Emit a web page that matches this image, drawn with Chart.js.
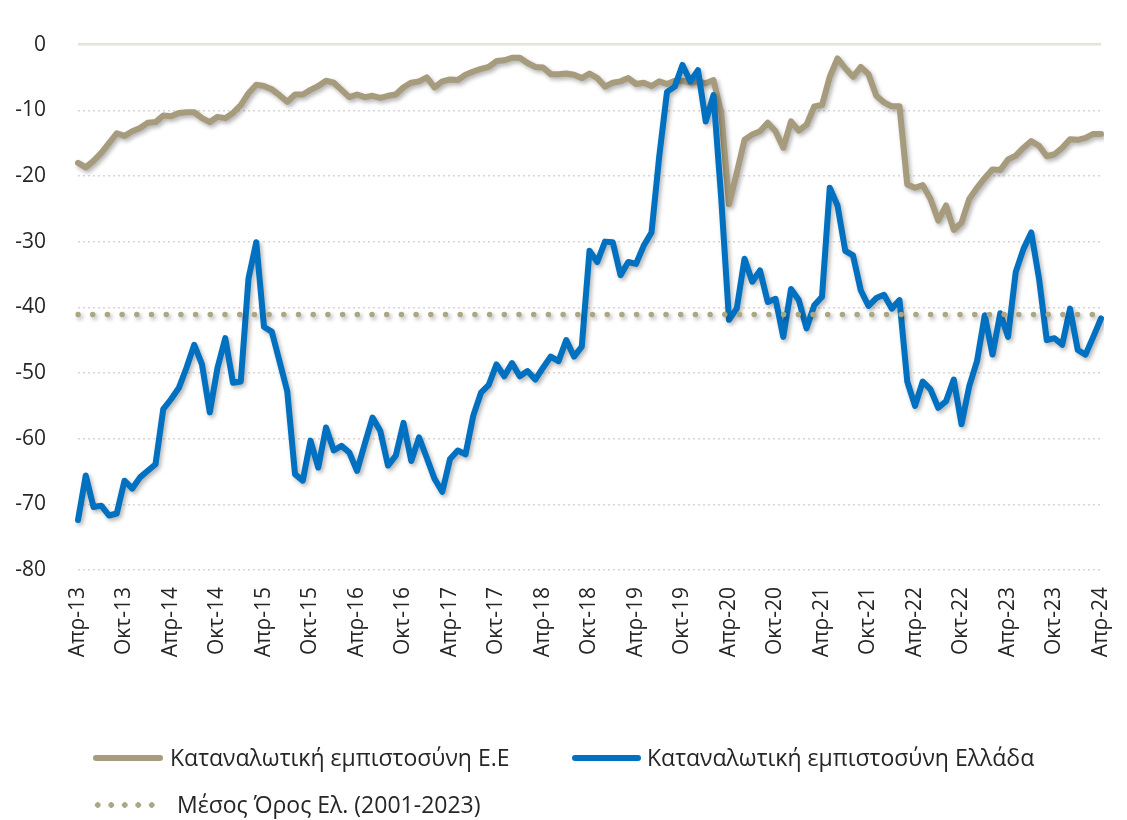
<!DOCTYPE html>
<html>
<head>
<meta charset="utf-8">
<script src="https://cdn.jsdelivr.net/npm/chart.js@4"></script>
<style>
  html, body { margin: 0; padding: 0; background: #fff; }
  #wrap { position: relative; width: 1127px; height: 820px; font-family: "Open Sans", "Liberation Sans", sans-serif; color: #262626; }
  #wrap canvas { position: absolute; left: 0; top: 0; }
  .lg { position: absolute; font-size: 23px; line-height: 28px; white-space: nowrap; }
  .sw { position: absolute; height: 6px; border-radius: 3px; }
  .dots { position: absolute; height: 6px;
    background-image: radial-gradient(circle, #ABA683 2.6px, transparent 3px);
    background-size: 13.5px 6px; }
</style>
</head>
<body>
<div id="wrap">
  <canvas id="chart" width="1127" height="820"></canvas>
  <div class="sw" style="left:93px; top:755px; width:70px; background:#A69B7D;"></div>
  <div class="lg" style="left:170px; top:743px;">Καταναλωτική εμπιστοσύνη Ε.Ε</div>
  <div class="sw" style="left:572px; top:755px; width:69px; background:#0070C0;"></div>
  <div class="lg" style="left:647px; top:743px;">Καταναλωτική εμπιστοσύνη Ελλάδα</div>
  <div class="dots" style="left:91px; top:802px; width:67.5px;"></div>
  <div class="lg" style="left:177px; top:790px;">Μέσος Όρος Ελ. (2001-2023)</div>
</div>
<script>
// Monthly series, Apr-2013 .. Apr-2024
const monthNames = ['Ιαν', 'Φεβ', 'Μαρ', 'Απρ', 'Μαϊ', 'Ιουν', 'Ιουλ', 'Αυγ', 'Σεπ', 'Οκτ', 'Νοε', 'Δεκ'];
const startYear = 13;
const startMonth = 3; // April

const euConfidence = [
  -18.0, -18.7, -17.7, -16.5, -15.0, -13.5, -13.9, -13.2, -12.7, -11.9, -11.8, -10.8,
  -10.9, -10.4, -10.3, -10.3, -11.2, -11.8, -11.0, -11.2, -10.4, -9.2, -7.4, -6.1,
  -6.3, -6.8, -7.7, -8.7, -7.6, -7.6, -6.9, -6.3, -5.5, -5.8, -6.9, -8.0,
  -7.6, -8.0, -7.8, -8.1, -7.8, -7.6, -6.5, -5.8, -5.6, -5.0, -6.5, -5.6,
  -5.3, -5.4, -4.6, -4.1, -3.7, -3.4, -2.5, -2.4, -2.0, -2.0, -2.8, -3.4,
  -3.5, -4.5, -4.5, -4.4, -4.6, -5.1, -4.4, -5.1, -6.4, -5.8, -5.6, -5.1,
  -6.0, -5.8, -6.3, -5.6, -6.0, -5.5, -5.5, -5.8, -5.6, -5.9, -5.4, -10.4,
  -24.3, -19.5, -14.5, -13.7, -13.2, -11.9, -13.2, -15.7, -11.7, -13.1, -12.2, -9.4,
  -9.2, -4.9, -2.1, -3.6, -4.9, -3.4, -4.5, -7.8, -8.8, -9.4, -9.4, -21.3,
  -21.8, -21.4, -23.5, -26.8, -24.5, -28.2, -27.1, -23.5, -21.8, -20.3, -19.0, -19.1,
  -17.5, -16.9, -15.7, -14.7, -15.4, -17.0, -16.7, -15.7, -14.4, -14.5, -14.2, -13.6,
  -13.6
];

const grConfidence = [
  -72.4, -65.6, -70.4, -70.2, -71.7, -71.4, -66.4, -67.6, -65.9, -64.9, -63.9, -55.5,
  -54.0, -52.3, -49.2, -45.7, -48.7, -56.0, -49.2, -44.7, -51.5, -51.3, -35.6, -30.1,
  -43.0, -43.7, -48.2, -52.8, -65.4, -66.4, -60.3, -64.4, -58.3, -61.8, -61.1, -62.1,
  -64.9, -60.8, -56.8, -58.8, -64.1, -62.6, -57.6, -63.4, -59.8, -62.9, -66.1, -68.1,
  -63.1, -61.8, -62.4, -56.5, -53.0, -51.8, -48.7, -50.5, -48.5, -50.5, -49.7, -51.0,
  -49.2, -47.5, -48.2, -45.0, -47.5, -46.0, -31.4, -33.1, -30.0, -30.1, -35.1, -33.1,
  -33.4, -30.6, -28.6, -17.0, -7.2, -6.4, -3.1, -5.6, -3.9, -11.7, -7.7, -23.5,
  -41.9, -40.2, -32.6, -36.1, -34.4, -39.2, -38.7, -44.5, -37.2, -38.9, -43.2, -39.7,
  -38.4, -21.8, -24.5, -31.4, -32.1, -37.4, -39.8, -38.6, -38.1, -40.2, -38.9, -51.3,
  -55.0, -51.3, -52.5, -55.3, -54.3, -51.0, -57.8, -52.0, -48.2, -41.2, -47.2, -40.9,
  -44.5, -34.6, -31.1, -28.6, -35.6, -45.0, -44.7, -45.7, -40.2, -46.5, -47.2, -44.5,
  -41.7
];

// long-run average for Greece (2001-2023)
const grAverage = -41.1;

const yTicks = { min: -80, max: 0, step: 10 };

const labels = euConfidence.map((_, i) => {
  const m = (startMonth + i) % 12;
  const y = startYear + Math.floor((startMonth + i) / 12);
  return monthNames[m] + '-' + y;
});

const COLORS = {
  eu: '#A69B7D',
  gr: '#0070C0',
  avg: '#ABA683',
  text: '#262626',
  grid: '#D6D6D6',
  zero: '#E6E2D6',
};

const FONT = '"Open Sans", "Liberation Sans", sans-serif';

const shadowPlugin = {
  id: 'lineShadow',
  beforeDatasetDraw(chart) {
    const ctx = chart.ctx;
    ctx.save();
    ctx.shadowColor = 'rgba(0,0,0,0.3)';
    ctx.shadowBlur = 4;
    ctx.shadowOffsetX = 2;
    ctx.shadowOffsetY = 2.5;
  },
  afterDatasetDraw(chart) {
    chart.ctx.restore();
  },
};

new Chart(document.getElementById('chart'), {
  type: 'line',
  data: {
    labels,
    datasets: [
      {
        label: 'Καταναλωτική εμπιστοσύνη Ε.Ε',
        data: euConfidence,
        borderColor: COLORS.eu,
        borderWidth: 6,
        pointRadius: 0,
        tension: 0,
        borderJoinStyle: 'round',
        borderCapStyle: 'round',
        order: 3,
      },
      {
        label: 'Καταναλωτική εμπιστοσύνη Ελλάδα',
        data: grConfidence,
        borderColor: COLORS.gr,
        borderWidth: 6,
        pointRadius: 0,
        tension: 0,
        borderJoinStyle: 'round',
        borderCapStyle: 'round',
        order: 2,
      },
      {
        label: 'Μέσος Όρος Ελ. (2001-2023)',
        data: labels.map(() => grAverage),
        borderColor: COLORS.avg,
        borderWidth: 5.5,
        borderDash: [0, 14.7],
        borderCapStyle: 'round',
        pointRadius: 0,
        order: 1,
      },
    ],
  },
  options: {
    responsive: false,
    animation: false,
    layout: { padding: { top: 41, left: 0, right: 26, bottom: 0 } },
    plugins: {
      legend: { display: false },
      tooltip: { enabled: false },
    },
    scales: {
      x: {
        grid: { display: false, drawTicks: false },
        border: { display: false },
        afterFit: (scale) => {
          scale.height = 250;
          scale.paddingLeft = 0;
          scale.paddingRight = 0;
        },
        ticks: {
          autoSkip: false,
          minRotation: 90,
          maxRotation: 90,
          padding: 17,
          color: COLORS.text,
          font: { family: FONT, size: 21 },
          callback: function (val, idx) {
            return idx % 6 === 0 ? this.getLabelForValue(val) : null;
          },
        },
      },
      y: {
        min: yTicks.min,
        max: yTicks.max,
        afterFit: (scale) => { scale.width = 78; },
        grid: {
          drawTicks: false,
          color: (ctx) => (ctx.tick && ctx.tick.value === 0 ? COLORS.zero : COLORS.grid),
          lineWidth: (ctx) => (ctx.tick && ctx.tick.value === 0 ? 2.5 : 1.4),
        },
        border: {
          display: false,
          dash: (ctx) => (ctx.tick && ctx.tick.value === 0 ? [] : [2, 3]),
        },
        ticks: {
          stepSize: yTicks.step,
          padding: 32,
          color: COLORS.text,
          font: { family: FONT, size: 21 },
        },
      },
    },
  },
  plugins: [shadowPlugin],
});
</script>
</body>
</html>
